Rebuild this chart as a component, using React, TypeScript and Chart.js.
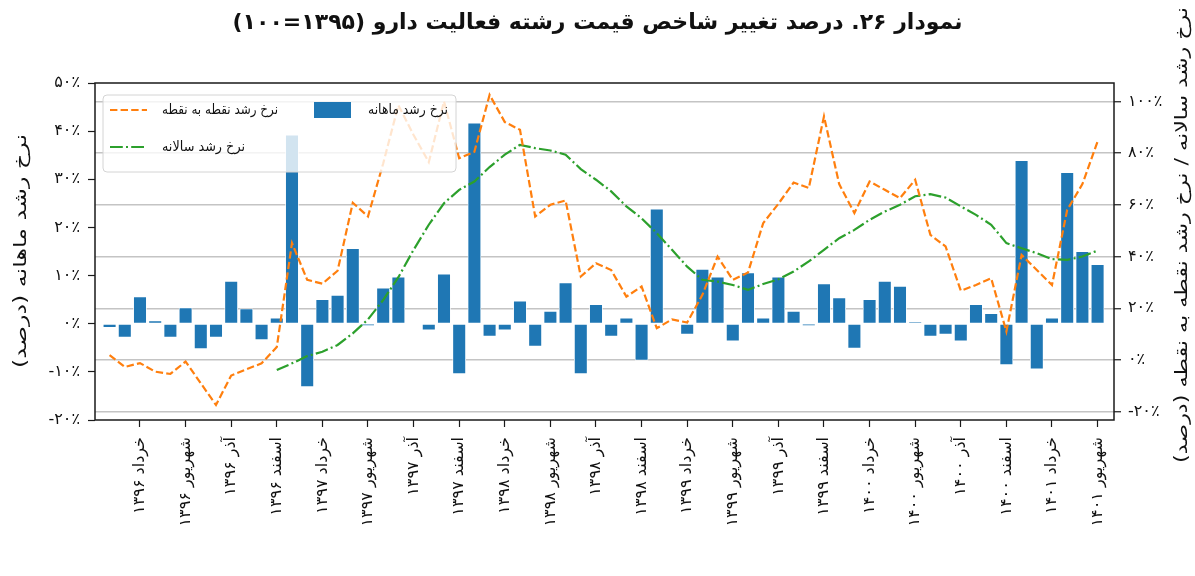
import React, { useEffect, useRef } from 'react';
import { Chart, registerables } from 'chart.js';

Chart.register(...registerables);

const TITLE = 'نمودار ۲۶. درصد تغییر شاخص قیمت رشته فعالیت دارو (۱۳۹۵=۱۰۰)';
const LEFT_TITLE = 'نرخ رشد ماهانه (درصد)';
const RIGHT_TITLE = 'نرخ رشد سالانه / نرخ رشد نقطه به نقطه (درصد)';
const NAME_P2P = 'نرخ رشد نقطه به نقطه';
const NAME_ANNUAL = 'نرخ رشد سالانه';
const NAME_MONTHLY = 'نرخ رشد ماهانه';

// months: فروردین ۱۳۹۶ (index 0) ... شهریور ۱۴۰۱ (index 65)
const tickIndex = [2, 5, 8, 11, 14, 17, 20, 23, 26, 29, 32, 35, 38, 41, 44, 47, 50, 53, 56, 59, 62, 65];
const tickLabels = [
  'خرداد ۱۳۹۶', 'شهریور ۱۳۹۶', 'آذر ۱۳۹۶', 'اسفند ۱۳۹۶',
  'خرداد ۱۳۹۷', 'شهریور ۱۳۹۷', 'آذر ۱۳۹۷', 'اسفند ۱۳۹۷',
  'خرداد ۱۳۹۸', 'شهریور ۱۳۹۸', 'آذر ۱۳۹۸', 'اسفند ۱۳۹۸',
  'خرداد ۱۳۹۹', 'شهریور ۱۳۹۹', 'آذر ۱۳۹۹', 'اسفند ۱۳۹۹',
  'خرداد ۱۴۰۰', 'شهریور ۱۴۰۰', 'آذر ۱۴۰۰', 'اسفند ۱۴۰۰',
  'خرداد ۱۴۰۱', 'شهریور ۱۴۰۱',
];

const monthly = [
  -0.8, -2.8, 5.6, 0.6, -2.8, 3.3, -5.2, -2.8, 8.8, 3.1, -3.3, 1.2,
  39.2, -13.1, 5.0, 5.9, 15.6, -0.4, 7.4, 9.7, 0, -1.3, 10.3, -10.4,
  41.7, -2.6, -1.3, 4.7, -4.7, 2.6, 8.5, -10.4, 4.0, -2.6, 1.2, -7.6,
  23.8, 0, -2.2, 11.3, 9.7, -3.6, 10.6, 1.2, 9.7, 2.6, -0.4, 8.3,
  5.4, -5.1, 5.0, 8.8, 7.8, 0.4, -2.6, -2.2, -3.6, 4.0, 2.1, -8.5,
  33.9, -9.4, 1.2, 31.4, 15.0, 12.3,
];

const pointToPoint = [
  1.9, -2.7, -1.2, -4.5, -5.4, -0.6, -9.0, -17.4, -6.0, -3.6, -1.3, 5.0,
  45.2, 31.0, 29.5, 34.5, 60.8, 55.5, 76.0, 98.5, 87.0, 76.5, 100.0, 78.0,
  80.5, 102.5, 92.0, 89.0, 55.5, 60.0, 61.7, 32.3, 37.4, 34.8, 24.5, 28.4,
  12.3, 15.7, 14.5, 25.2, 40.0, 31.0, 33.8, 52.9, 60.4, 68.6, 66.5, 94.2,
  68.0, 56.8, 69.0, 65.8, 62.6, 69.7, 48.4, 43.9, 26.8, 29.0, 31.6, 11.0,
  40.6, 34.8, 29.0, 58.0, 68.0, 84.5,
];

const annual = [
  null, null, null, null, null, null, null, null, null, null, null, -3.9,
  -1.3, 1.5, 3.2, 5.8, 10.3, 15.7, 23.2, 32.0, 42.6, 52.3, 60.6, 65.8,
  69.0, 74.6, 79.4, 83.2, 81.9, 81.0, 79.4, 73.8, 69.7, 65.2, 59.4, 54.8,
  49.0, 42.6, 36.1, 31.0, 30.3, 29.0, 27.1, 29.4, 31.2, 34.2, 38.1, 42.6,
  47.1, 50.3, 54.2, 57.4, 60.0, 63.3, 64.1, 62.8, 59.4, 56.1, 52.3, 45.2,
  43.2, 41.3, 39.0, 38.7, 40.0, 42.3,
];

const FA_DIGITS = ['۰', '۱', '۲', '۳', '۴', '۵', '۶', '۷', '۸', '۹'];
const toFa = (n: number) => String(n).replace(/[0-9]/g, (d) => FA_DIGITS[Number(d)]);
const pct = (v: number) => toFa(Math.round(v)) + '٪';

const BLUE = '#1f77b4';
const ORANGE = '#ff7f0e';
const GREEN = '#2ca02c';
const FONT = 'DejaVu Sans';
const DASH_P2P = [7.4, 3.2];
const DASH_ANNUAL = [12.8, 3.2, 2, 3.2];

// draw text so that its extent along the baseline equals `target`
const drawFitted = (ctx: CanvasRenderingContext2D, text: string, x: number, y: number, target: number) => {
  const w = ctx.measureText(text).width || 1;
  ctx.save();
  ctx.translate(x, y);
  ctx.scale(target / w, 1);
  ctx.fillText(text, 0, 0);
  ctx.restore();
};

const decorPlugin = {
  id: 'decor',
  afterDatasetsDraw(chart: any) {
    const { ctx, chartArea: a } = chart;
    ctx.save();
    ctx.strokeStyle = '#1a1a1a';
    ctx.lineWidth = 1.5;
    ctx.strokeRect(a.left, a.top, a.right - a.left, a.bottom - a.top);
    ctx.restore();
  },
  afterDraw(chart: any) {
    const { ctx, chartArea: a, width } = chart;
    ctx.save();
    ctx.fillStyle = '#111';
    ctx.direction = 'rtl';
    ctx.textBaseline = 'middle';

    // title
    ctx.textAlign = 'center';
    ctx.font = `bold 22px ${FONT}`;
    drawFitted(ctx, TITLE, width / 2, 23, 730);

    // axis titles (both rotated counter-clockwise)
    ctx.font = `17px ${FONT}`;
    ctx.save();
    ctx.translate(22, 251);
    ctx.rotate(-Math.PI / 2);
    drawFitted(ctx, LEFT_TITLE, 0, 0, 234);
    ctx.restore();
    ctx.save();
    ctx.translate(width - 12, 235);
    ctx.rotate(-Math.PI / 2);
    drawFitted(ctx, RIGHT_TITLE, 0, 0, 456);
    ctx.restore();

    // legend
    const lx = a.left + 8;
    const ly = a.top + 12;
    const lw = 353;
    const lh = 77;
    ctx.beginPath();
    ctx.roundRect(lx, ly, lw, lh, 4);
    ctx.fillStyle = 'rgba(255,255,255,0.8)';
    ctx.fill();
    ctx.strokeStyle = '#d4d4d4';
    ctx.lineWidth = 1;
    ctx.stroke();

    const row1 = ly + 15;
    const row2 = ly + 52;
    const drawLine = (x: number, y: number, color: string, dash: number[]) => {
      ctx.save();
      ctx.strokeStyle = color;
      ctx.lineWidth = 2.2;
      ctx.setLineDash(dash);
      ctx.beginPath();
      ctx.moveTo(x, y);
      ctx.lineTo(x + 37, y);
      ctx.stroke();
      ctx.restore();
    };
    drawLine(lx + 7, row1, ORANGE, DASH_P2P);
    drawLine(lx + 7, row2, GREEN, DASH_ANNUAL);
    ctx.fillStyle = BLUE;
    ctx.fillRect(lx + 211, row1 - 8, 37, 16);

    ctx.fillStyle = '#111';
    ctx.textAlign = 'left';
    ctx.font = `14px ${FONT}`;
    drawFitted(ctx, NAME_P2P, lx + 59, row1, 116);
    drawFitted(ctx, NAME_ANNUAL, lx + 59, row2, 83);
    drawFitted(ctx, NAME_MONTHLY, lx + 265, row1, 80);
    ctx.restore();
  },
};

export default function App() {
  const ref = useRef<HTMLCanvasElement>(null);
  useEffect(() => {
    if (!ref.current) return;
    const chart = new Chart(ref.current, {
      type: 'bar',
      data: {
        datasets: [
          {
            type: 'line',
            label: NAME_P2P,
            data: pointToPoint.map((v, i) => ({ x: i, y: v })),
            yAxisID: 'y1',
            borderColor: ORANGE,
            borderWidth: 2.2,
            borderDash: DASH_P2P,
            pointRadius: 0,
            tension: 0,
            order: 1,
          } as any,
          {
            type: 'line',
            label: NAME_ANNUAL,
            data: annual.map((v, i) => ({ x: i, y: v })),
            yAxisID: 'y1',
            borderColor: GREEN,
            borderWidth: 2.2,
            borderDash: DASH_ANNUAL,
            pointRadius: 0,
            tension: 0,
            spanGaps: false,
            order: 2,
          } as any,
          {
            type: 'bar',
            label: NAME_MONTHLY,
            data: monthly.map((v, i) => ({ x: i, y: v })),
            yAxisID: 'y',
            backgroundColor: BLUE,
            borderColor: '#ffffff',
            borderWidth: 0.8,
            borderSkipped: false,
            barThickness: 13,
            order: 3,
          } as any,
        ],
      },
      options: {
        responsive: false,
        animation: false,
        layout: { padding: { top: 83, left: 0, right: 0, bottom: 0 } },
        plugins: {
          legend: { display: false },
          title: { display: false },
          tooltip: { enabled: false },
        },
        scales: {
          x: {
            type: 'linear',
            offset: false,
            min: -0.96,
            max: 66.08,
            afterFit: (s: any) => { s.height = 156; },
            afterBuildTicks: (s: any) => { s.ticks = tickIndex.map((v) => ({ value: v })); },
            grid: { offset: false, drawOnChartArea: false, tickLength: 7, tickColor: '#1a1a1a', tickWidth: 1.2 },
            border: { display: false },
            ticks: {
              autoSkip: false,
              minRotation: 90,
              maxRotation: 90,
              padding: 10,
              color: '#111',
              font: { family: FONT, size: 16 },
              callback: (v: any) => tickLabels[tickIndex.indexOf(Number(v))] ?? '',
            },
          },
          y: {
            type: 'linear',
            position: 'left',
            min: -20,
            max: 50,
            afterFit: (s: any) => { s.width = 95; },
            grid: { drawOnChartArea: false, tickLength: 7, tickColor: '#1a1a1a', tickWidth: 1.2 },
            border: { display: false },
            ticks: {
              stepSize: 10,
              padding: 8,
              color: '#111',
              font: { family: FONT, size: 16 },
              callback: (v: any) => pct(Number(v)),
            },
          },
          y1: {
            type: 'linear',
            position: 'right',
            min: -23.2,
            max: 107.1,
            afterFit: (s: any) => { s.width = 81; },
            grid: { drawOnChartArea: true, color: '#c4c4c4', lineWidth: 1.5, tickLength: 7, tickColor: '#1a1a1a', tickWidth: 1.2 },
            border: { display: false },
            ticks: {
              stepSize: 20,
              includeBounds: false,
              padding: 7,
              color: '#111',
              font: { family: FONT, size: 16 },
              callback: (v: any) => pct(Number(v)),
            },
          },
        },
      },
      plugins: [decorPlugin],
    } as any);
    return () => chart.destroy();
  }, []);

  return (
    <div style={{ position: 'absolute', left: 0, top: 0, width: 1195, height: 576, background: '#fff' }}>
      <canvas ref={ref} width={1195} height={576} style={{ width: 1195, height: 576, display: 'block' }} />
    </div>
  );
}
